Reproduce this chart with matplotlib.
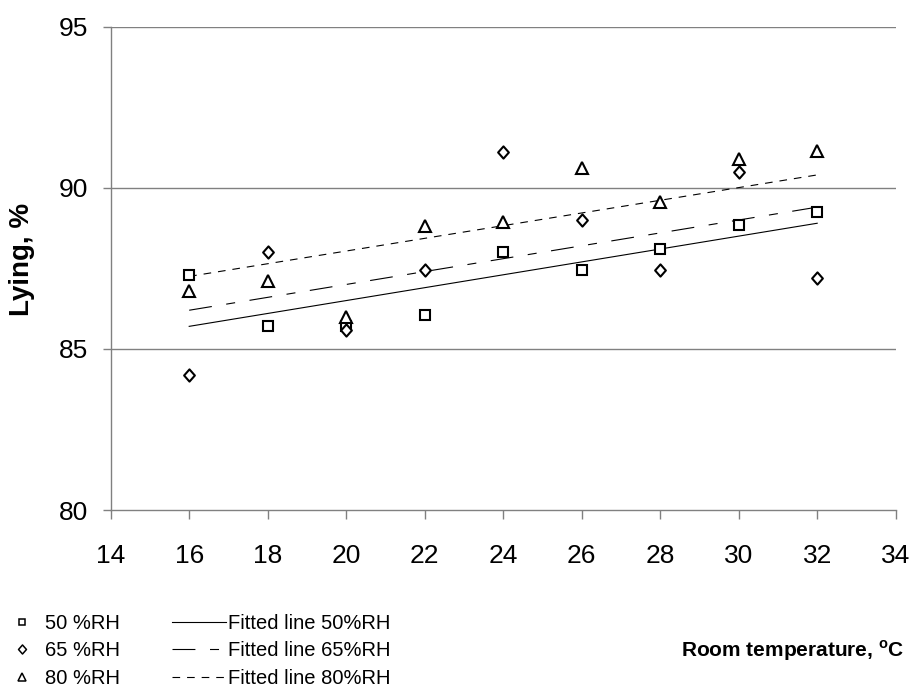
import numpy as np
import matplotlib
matplotlib.use('Agg')
import matplotlib.pyplot as plt
from matplotlib.lines import Line2D
from matplotlib.path import Path

plt.rcParams['font.family'] = ['Liberation Sans', 'DejaVu Sans']
plt.rcParams['lines.scale_dashes'] = False

# data
temp = [16, 18, 20, 22, 24, 26, 28, 30, 32]
rh50 = [87.3, 85.7, 85.7, 86.05, 88.0, 87.45, 88.1, 88.85, 89.25]
rh65 = [84.2, 88.0, 85.6, 87.45, 91.1, 89.0, 87.45, 90.5, 87.2]
rh80 = [86.8, 87.1, 86.0, 88.8, 88.95, 90.6, 89.55, 90.9, 91.15]

fit_x = [16, 32]
fit50 = [85.7, 88.9]
fit65 = [86.2, 89.4]
fit80 = [87.25, 90.4]

xticks = [14, 16, 18, 20, 22, 24, 26, 28, 30, 32, 34]
yticks = [80, 85, 90, 95]

diamond = Path([(0, 1), (0.88, 0), (0, -1), (-0.88, 0), (0, 1)],
               [Path.MOVETO, Path.LINETO, Path.LINETO, Path.LINETO, Path.CLOSEPOLY])

dash65 = (0, (16.5, 10.5, 6.5, 10.5))
dash80 = (0, (5.5, 5.0))

fig = plt.figure(figsize=(9.11, 6.89), dpi=100)
ax = fig.add_axes([110.7/911, 1-510/689, (895.7-110.7)/911, (510-26.7)/689])

grey = '#808080'
for y in yticks[1:]:
    ax.axhline(y, color=grey, lw=1.0, zorder=1)

ax.plot(fit_x, fit50, color='black', lw=0.8, ls='-', zorder=2)
ax.plot(fit_x, fit65, color='black', lw=0.8, ls=dash65, zorder=2)
ax.plot(fit_x, fit80, color='black', lw=0.8, ls=dash80, zorder=2)

mk = dict(ls='none', mfc='white', mec='black', mew=1.5, zorder=3)
ax.plot(temp, rh50, marker='s', ms=7.0, **mk)
ax.plot(temp, rh65, marker=diamond, ms=8.8, **mk)
ax.plot(temp, rh80, marker='^', ms=8.0, **mk)

ax.set_xlim(14, 34)
ax.set_ylim(80, 95)
ax.set_xticks(xticks)
ax.set_yticks(yticks)
ax.tick_params(axis='both', direction='out', color=grey, width=1.0, labelsize=19)
ax.tick_params(axis='y', length=5.8, pad=10.5)
ax.tick_params(axis='x', length=6.5, pad=18)
for s in ['top', 'right']:
    ax.spines[s].set_visible(False)
for s in ['left', 'bottom']:
    ax.spines[s].set_color(grey)
    ax.spines[s].set_linewidth(1.0)

fig.text(22/911, 1-259/689, 'Lying, %', rotation=90, ha='center', va='center',
         fontsize=20, fontweight='bold')
fig.text(904/911, 1-651/689, r'Room temperature, $^{\mathregular{o}}$C', ha='right', va='center',
         fontsize=15, fontweight='bold')

# legend, two separate blocks like the original
lm = dict(ls='none', mfc='white', mec='black', mew=1.1)
h1 = [Line2D([], [], marker='s', ms=5, **lm),
      Line2D([], [], marker=diamond, ms=6.5, **lm),
      Line2D([], [], marker='^', ms=6, **lm)]
fig.legend(h1, ['50 %RH', '65 %RH', '80 %RH'], loc='center left',
           bbox_to_anchor=(12.3/911, 1-651/689), frameon=False, fontsize=14.5,
           handlelength=1.0, handletextpad=0.6, borderpad=0, borderaxespad=0,
           labelspacing=0.4)

h2 = [Line2D([], [], color='black', lw=0.8, ls='-'),
      Line2D([], [], color='black', lw=0.8, ls=dash65),
      Line2D([], [], color='black', lw=0.8, ls=dash80)]
fig.legend(h2, ['Fitted line 50%RH', 'Fitted line 65%RH', 'Fitted line 80%RH'],
           loc='center left', bbox_to_anchor=(172/911, 1-651/689), frameon=False,
           fontsize=14.5, handlelength=2.7, handletextpad=0.1, borderpad=0,
           borderaxespad=0, labelspacing=0.4)

fig.savefig('out.png', dpi=100)
